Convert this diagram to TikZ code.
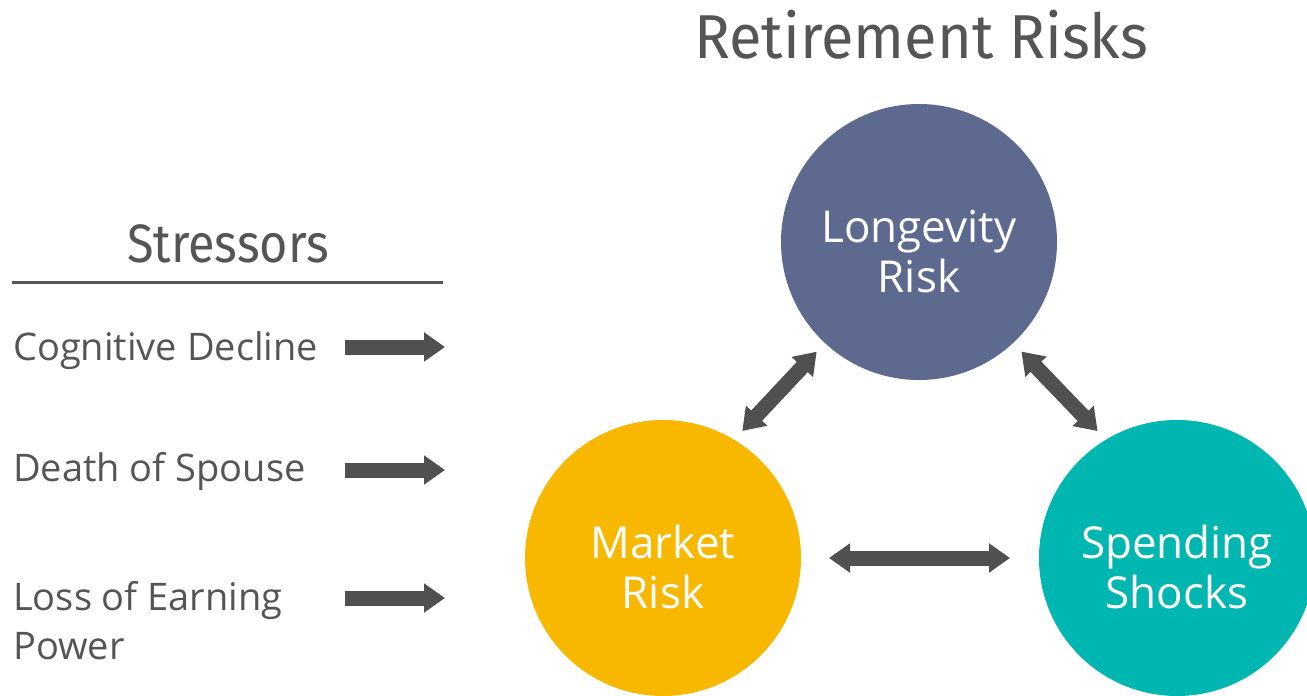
\documentclass[tikz,border=0pt]{standalone}
\usepackage{fontspec}
\setmainfont{Open Sans}
\newfontfamily\headfont{Fira Sans}
\usetikzlibrary{arrows.meta}

\definecolor{txtgray}{HTML}{555555}
\definecolor{arrgray}{HTML}{505050}
\definecolor{lonblue}{HTML}{5D698F}
\definecolor{mktgold}{HTML}{F9B800}
\definecolor{spdteal}{HTML}{00B6B0}

\begin{document}
\begin{tikzpicture}[x=1pt,y=-1pt,
        risk/.style={circle, minimum size=276pt, inner sep=0pt, outer sep=0pt, text=white, align=center, text height=100pt, text depth=0pt, font=\fontsize{44}{50}\selectfont},
        stressor/.style={anchor=base west, inner sep=0pt, text=txtgray, align=left, font=\fontsize{38}{49}\selectfont},
        head/.style={anchor=base, inner sep=0pt, text=txtgray},
        push/.style={arrgray, line width=15pt, -{Triangle[length=21pt,width=28pt]}},
        both/.style={arrgray, line width=15pt, {Triangle[length=21pt,width=28pt]}-{Triangle[length=21pt,width=28pt]}}]
        \useasboundingbox (0,0) rectangle (1307,696);
        \clip (0,0) rectangle (1307,696);

        \node [head, font=\headfont\fontsize{62}{70}\selectfont] (title) at (921,58) {\scalebox{0.96}[1]{Retirement Risks}};
        \node [head, font=\headfont\fontsize{54}{60}\selectfont] (stress) at (228,262) {\scalebox{0.9}[1]{Stressors}};
        \coordinate (rulel) at (12,282);
        \coordinate (ruler) at (443,282);

        \node [stressor] (cog) at (13,360) {Cognitive Decline};
        \node [stressor] (death) at (13,481) {Death of Spouse};
        \node [stressor] (loss) at (13,659) {Loss of Earning\\Power};

        \coordinate (cogs) at (345,347);
        \coordinate (coge) at (445,347);
        \coordinate (deaths) at (345,470);
        \coordinate (deathe) at (445,470);
        \coordinate (losss) at (345,598);
        \coordinate (losse) at (445,598);

        \node [risk, fill=lonblue] (lon) at (919,242) {Longevity\\Risk};
        \node [risk, fill=mktgold] (mkt) at (663,558) {Market\\Risk};
        \node [risk, fill=spdteal] (spd) at (1177,558) {Spending\\Shocks};

    \draw [txtgray, line width=3pt] (rulel) -- (ruler);

    \path [push]
        (cogs) edge (coge)
        (deaths) edge (deathe)
        (losss) edge (losse)
        ;

    \path [both]
        (lon.227) edge[shorten <=12pt, shorten >=12pt] (mkt.59)
        (lon.313) edge[shorten <=12pt, shorten >=12pt] (spd.121)
        (mkt) edge[shorten <=28pt, shorten >=29pt] (spd)
        ;
\end{tikzpicture}
\end{document}
